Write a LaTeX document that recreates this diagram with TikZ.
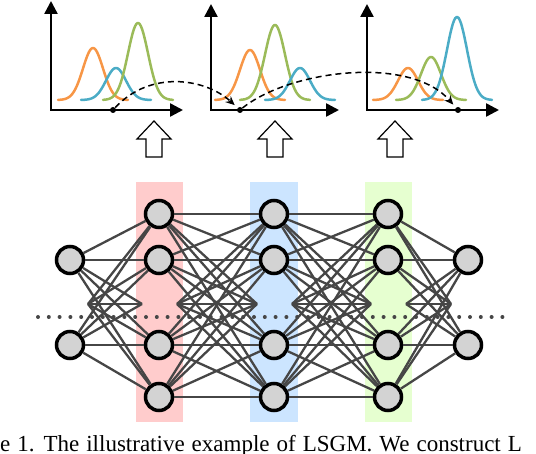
\documentclass[tikz,border=0pt]{standalone}
\usepackage{fontspec}
\newfontfamily\captionfont{Liberation Serif}
\usetikzlibrary{arrows.meta}
\definecolor{curveorange}{RGB}{247,150,70}
\definecolor{curvegreen}{RGB}{155,187,89}
\definecolor{curveblue}{RGB}{75,172,198}
\definecolor{bandred}{RGB}{255,204,204}
\definecolor{bandblue}{RGB}{204,229,255}
\definecolor{bandgreen}{RGB}{230,255,208}
\definecolor{edgegray}{RGB}{70,70,70}
\definecolor{nodegray}{RGB}{211,211,211}
\begin{document}
\begin{tikzpicture}[x=1pt,y=-1pt,
    neuron/.style={circle,draw=black,line width=3.5pt,fill=nodegray,minimum size=27pt,inner sep=0pt},
    link/.style={edgegray,line width=2.3pt},
    axis/.style={line width=2.5pt,-{Triangle[length=13pt,width=13pt]}},
    bell/.style={line width=2.5pt,line cap=round},
    flow/.style={line width=1.5pt,dash pattern=on 6pt off 4pt,-{Stealth[length=9pt,width=8pt]},shorten >=4pt},
    bigarrow/.style={draw=black,line width=1.2pt,fill=white}]
  \clip (0,0) rectangle (536,454);
  % distributions
  \foreach \ox/\oy/\tx in {51/1/183,211/4/339,367/4/499}{
    \draw[axis] (\ox,111) -- (\ox,\oy);
    \draw[axis] (\ox-1,110) -- (\tx,110);}
  \foreach \cx/\peak/\clr in {93/52/curveorange,116/32/curveblue,138/77/curvegreen,
      250/50/curveorange,275/75/curvegreen,300/32/curveblue,
      408/32/curveorange,431/43/curvegreen,457/83/curveblue}
    \draw[bell,\clr] plot[domain=-35:35,samples=60] ({\cx+\x},{100-\peak*exp(-((\x)*(\x))/200)});
  \foreach \i/\x in {1/113,2/240,3/458}
    \node[circle,fill=black,inner sep=0pt,minimum size=6pt] (dot\i) at (\x,110) {};
  \draw[flow] (dot1) .. controls (150,70) and (205,78) .. (dot2);
  \draw[flow] (dot2) .. controls (290,70) and (410,55) .. (dot3);
  \foreach \cx in {154,275,395}
    \draw[bigarrow] (\cx,121) -- (\cx+17,139) -- (\cx+8,139) -- (\cx+8,157)
      -- (\cx-8,157) -- (\cx-8,139) -- (\cx-17,139) -- cycle;
  % network
  \fill[bandred] (136,182) rectangle (183,422);
  \fill[bandblue] (250,182) rectangle (298,422);
  \fill[bandgreen] (365,182) rectangle (412,422);
  \foreach \x in {0,...,43}{\fill[edgegray] (38+\x*10.8,317) circle (2pt);}
  \foreach \r/\y in {1/260,2/345}{
    \node[neuron] (n0-\r) at (70,\y) {};
    \node[neuron] (n4-\r) at (468,\y) {};}
  \foreach \c/\x in {1/159,2/274,3/388}
    \foreach \r/\y in {1/214,2/260,3/345,4/397}
      \node[neuron] (n\c-\r) at (\x,\y) {};
  \foreach \a/\xa/\xb in {0/70/159,1/159/274,2/274/388,3/388/468}{
    \coordinate (mL\a) at (\xa+18,304);
    \coordinate (mR\a) at (\xb-17,304);}
  \foreach \a/\b/\na/\nb in {0/1/2/4,1/2/4/4,2/3/4/4,3/4/4/2}{
    \foreach \i in {1,...,\na}{
      \foreach \j in {1,...,\nb}{\draw[link] (n\a-\i) -- (n\b-\j);}
      \draw[link] (n\a-\i) -- (mR\a);}
    \foreach \j in {1,...,\nb}{\draw[link] (mL\a) -- (n\b-\j);}
    \draw[link] (mL\a) -- (mR\a);}
  \node[anchor=base west,inner sep=0pt,font=\captionfont\fontsize{23}{27}\selectfont] (caption) at (0,452)
    {\spaceskip=7pt e 1. The illustrative example of LSGM. We construct L};
\end{tikzpicture}
\end{document}
